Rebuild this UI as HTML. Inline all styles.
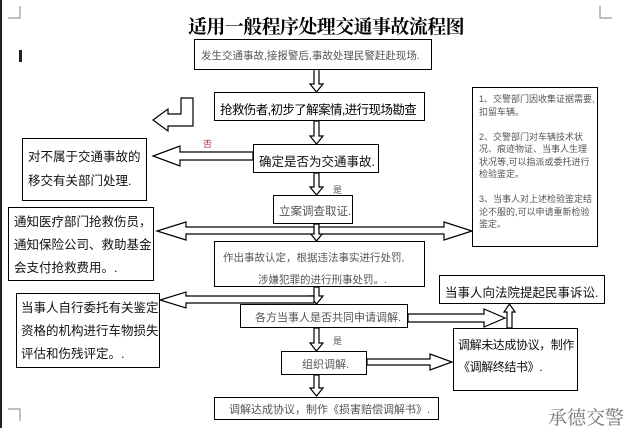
<!DOCTYPE html>
<html><head><meta charset="utf-8"><style>
html,body{margin:0;padding:0;background:#fff;}
body{width:623px;height:428px;overflow:hidden;position:relative;font-family:"Liberation Sans","Noto Sans CJK SC",sans-serif;}
.b{position:absolute;border:1.3px solid #000;box-sizing:border-box;background:#fff;overflow:hidden;}
.t{position:absolute;white-space:nowrap;}
.s{color:#555;font-size:11px;}
.m{color:#111;font-size:12.5px;}
</style></head><body>
<div style="position:absolute;left:0;top:0;width:2px;height:428px;background:#222"></div>
<svg width="623" height="428" style="position:absolute;left:0;top:0" fill="#fff" stroke="#000" stroke-width="1.2">
<polyline points="20,6 20,18 8,18" fill="none" stroke="#999"/>
<polyline points="600,6 600,18 612,18" fill="none" stroke="#999"/>
<polyline points="8,409 20,409 20,421" fill="none" stroke="#999"/>
<polygon points="314,69 319,69 319,84 323,84 316.5,92 310,84 314,84"/>
<polygon points="314,121 319,121 319,136 323,136 316.5,144 310,136 314,136"/>
<polygon points="314,173 319,173 319,187 323,187 316.5,195 310,187 314,187"/>
<polygon points="314,224 319,224 319,233 323,233 316.5,241 310,233 314,233"/>
<polygon points="314,287 319,287 319,296 323,296 316.5,304 310,296 314,296"/>
<polygon points="314,328 319,328 319,343 323,343 316.5,351 310,343 314,343"/>
<polygon points="314,375 319,375 319,388 323,388 316.5,396 310,388 314,388"/>
<polygon points="181,98 193,98 193,126 168,126 168,131 153,120 168,109 168,114 181,114"/>
<polygon points="253,152 180,152 180,146 153,156 180,166 180,160 253,160"/>
<polygon points="314,227 186,227 186,222 157,231 186,240 186,234 314,234"/>
<polygon points="319,227 444,227 444,222 472,231 444,240 444,234 319,234"/>
<polygon points="314,296 186,296 186,292 160,300 186,308 186,303 314,303"/>
<polygon points="408,314 484,314 484,309 505,318 484,327 484,322 408,322"/>
<polygon points="367,359 430,359 430,354 452,362 430,370 430,365 367,365"/>
<polygon points="507,328 512,328 512,312 515,312 509.5,304 504,312 507,312"/>
</svg>
<div class="t" style="left:188px;top:17px;font-size:19px;line-height:21px;font-weight:bold;font-family:'Liberation Serif','Noto Serif CJK SC',serif;letter-spacing:-0.6px">适用一般程序处理交通事故流程图</div>
<div class="t" style="left:19px;top:50px;width:3px;height:12px;background:#222"></div>
<div class="b" style="left:194px;top:39px;width:238px;height:31px"><div class="t s" style="left:6px;top:8px;font-size:10.5px">发生交通事故,接报警后,事故处理民警赶赴现场.</div></div>
<div class="b" style="left:214px;top:92px;width:211px;height:29px"><div class="t" style="left:5px;top:6px;font-size:12.5px;letter-spacing:-0.6px">抢救伤者,初步了解案情,进行现场勘查</div></div>
<div class="b" style="left:472px;top:87px;width:126px;height:160px"><div class="s" style="position:absolute;left:6px;top:5px;width:116px;font-size:9px;line-height:12.5px;white-space:normal">1、交警部门因收集证据需要,扣留车辆。<br>&nbsp;<br>2、交警部门对车辆技术状况、痕迹物证、当事人生理状况等,可以指派或委托进行检验鉴定。<br>&nbsp;<br>3、当事人对上述检验鉴定结论不服的,可以申请重新检验鉴定。</div></div>
<div class="t" style="left:203px;top:137px;font-size:9px;color:#a33">否</div>
<div class="b" style="left:253px;top:144px;width:126px;height:29px"><div class="t m" style="left:5px;top:6px">确定是否为交通事故.</div></div>
<div class="b" style="left:22px;top:138px;width:125px;height:63px"><div class="t m" style="left:5px;top:6px;line-height:24px">对不属于交通事故的<br>移交有关部门处理.</div></div>
<div class="t" style="left:333px;top:183px;font-size:9px;color:#555">是</div>
<div class="b" style="left:273px;top:195px;width:80px;height:29px"><div class="t s" style="left:5px;top:7px;font-size:11.5px">立案调查取证.</div></div>
<div class="b" style="left:8px;top:207px;width:146px;height:74px"><div class="t m" style="left:5px;top:3px;line-height:23px">通知医疗部门抢救伤员，<br>通知保险公司、救助基金<br>会支付抢救费用。.</div></div>
<div class="b" style="left:214px;top:241px;width:211px;height:46px"><div class="t s" style="left:8px;top:5px;line-height:22px;font-size:10.5px">作出事故认定，根据违法事实进行处罚,<br>&nbsp;&nbsp;&nbsp;&nbsp;&nbsp;&nbsp;&nbsp;&nbsp;&nbsp;&nbsp;&nbsp;&nbsp;涉嫌犯罪的进行刑事处罚。.</div></div>
<div class="b" style="left:16px;top:293px;width:144px;height:75px"><div class="t m" style="left:4px;top:3px;line-height:23px">当事人自行委托有关鉴定<br>资格的机构进行车物损失<br>评估和伤残评定。.</div></div>
<div class="b" style="left:439px;top:275px;width:166px;height:29px"><div class="t m" style="left:5px;top:6px">当事人向法院提起民事诉讼.</div></div>
<div class="b" style="left:240px;top:304px;width:168px;height:24px"><div class="t s" style="left:14px;top:4px;font-size:11px">各方当事人是否共同申请调解.</div></div>
<div class="t" style="left:333px;top:334px;font-size:9px;color:#555">是</div>
<div class="b" style="left:453px;top:328px;width:125px;height:63px"><div class="t m" style="left:4px;top:5px;line-height:22px;font-size:12px;letter-spacing:-0.4px">调解未达成协议，制作<br>《调解终结书》.</div></div>
<div class="b" style="left:281px;top:351px;width:86px;height:24px"><div class="t s" style="left:20px;top:4px;font-size:11px">组织调解.</div></div>
<div class="b" style="left:214px;top:397px;width:225px;height:23px"><div class="t s" style="left:14px;top:3px;font-size:11px">调解达成协议，制作《损害赔偿调解书》.</div></div>
<div class="t" style="left:548px;top:403px;font-size:19px;color:#777;font-family:'Liberation Serif','Noto Serif CJK SC',serif">承德交警</div>
</body></html>
